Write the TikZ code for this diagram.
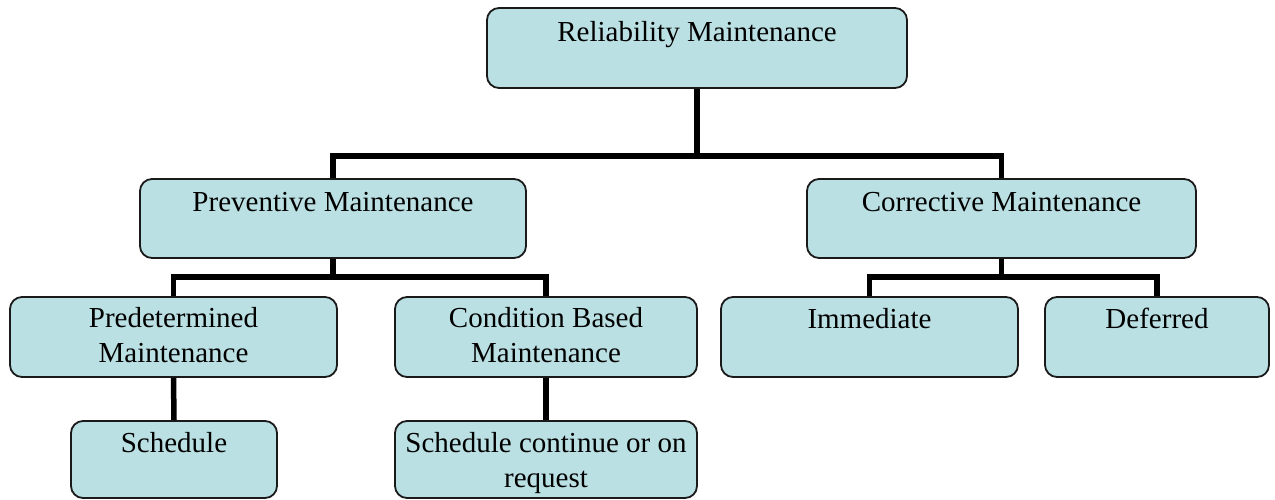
\documentclass[tikz,border=0pt]{standalone}
\usepackage{fontspec}
\setmainfont{Liberation Serif}
\definecolor{boxfill}{HTML}{BAE0E3}
\definecolor{boxline}{HTML}{1A1A1A}
\begin{document}
\begin{tikzpicture}[x=1pt,y=-1pt,
  box/.style={draw=boxline, line width=1.8pt, fill=boxfill,
    rounded corners=12pt, inner sep=0pt, minimum height=80pt},
  lbl/.style={anchor=north, inner sep=0pt, align=center,
    font=\fontsize{29}{35}\selectfont},
  conn/.style={draw=black, line width=5.5pt, line join=miter}]
\useasboundingbox (0,0) rectangle (1275,499);

% boxes
\node[box, minimum width=420pt] (rm) at (697,48) {};
\node[box, minimum width=386pt, minimum height=79pt] (pm) at (333,218.5) {};
\node[box, minimum width=389pt, minimum height=79pt] (cm) at (1001.5,218.5) {};
\node[box, minimum width=327pt] (pd) at (173.5,337) {};
\node[box, minimum width=302pt] (cb) at (546,337) {};
\node[box, minimum width=297pt] (im) at (869.5,337) {};
\node[box, minimum width=224pt] (df) at (1157,337) {};
\node[box, minimum width=206pt, minimum height=77pt] (sc) at (174,459.5) {};
\node[box, minimum width=302pt, minimum height=77pt] (sr) at (546,459.5) {};

% labels near the top of each box
\node[lbl] (rm-t) at ([yshift=-10pt]rm.north) {\strut Reliability Maintenance};
\node[lbl] (pm-t) at ([yshift=-9pt]pm.north) {\strut Preventive Maintenance};
\node[lbl] (cm-t) at ([yshift=-9pt]cm.north) {\strut Corrective Maintenance};
\node[lbl] (pd-t) at ([yshift=-7pt]pd.north) {\strut Predetermined\\Maintenance};
\node[lbl] (cb-t) at ([yshift=-7pt]cb.north) {\strut Condition Based\\Maintenance};
\node[lbl] (im-t) at ([yshift=-7.5pt]im.north) {\strut Immediate};
\node[lbl] (df-t) at ([yshift=-7.5pt]df.north) {\strut Deferred};
\node[lbl] (sc-t) at ([yshift=-7.5pt]sc.north) {\strut Schedule};
\node[lbl] (sr-t) at ([yshift=-7.5pt]sr.north) {\strut Schedule continue or on\\request};

% junction points of the tree connectors
\coordinate (j1) at (697,156);
\coordinate (j2) at (333,277);
\coordinate (j3) at (1001.5,277);

% connectors
\draw[conn] (rm.south) -- (j1) -| (pm.north);
\draw[conn] (j1) -| (cm.north);
\draw[conn] (pm.south) -- (j2) -| (pd.north);
\draw[conn] (j2) -| (cb.north);
\draw[conn] (cm.south) -- (j3) -| (im.north);
\draw[conn] (j3) -| (df.north);
\draw[conn] (pd.south) -- (sc.north);
\draw[conn] (cb.south) -- (sr.north);
\end{tikzpicture}
\end{document}
